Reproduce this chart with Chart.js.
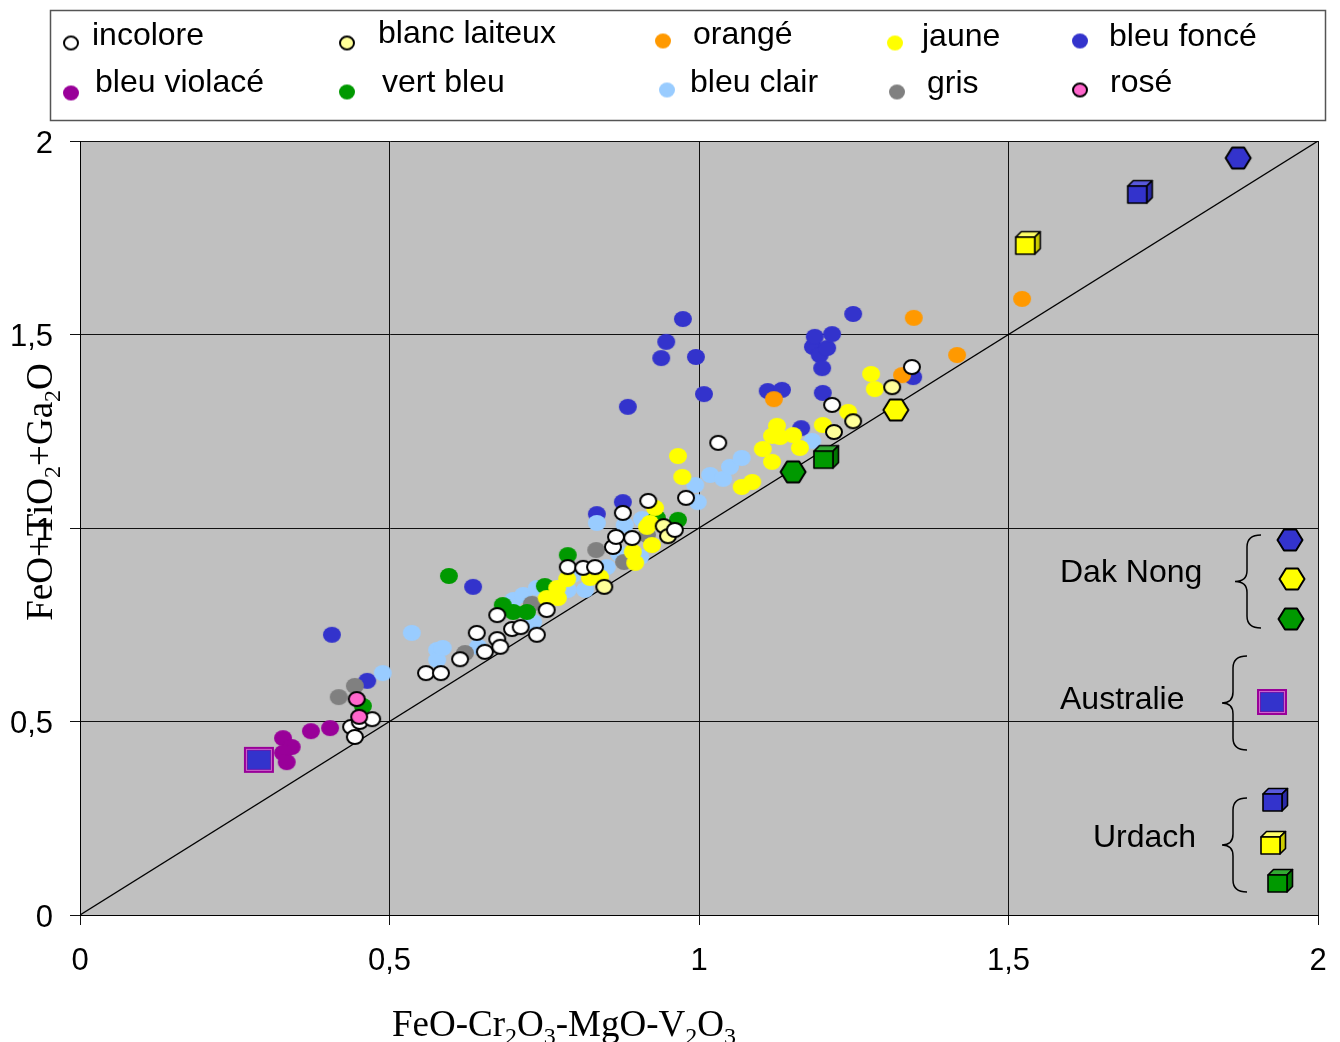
<!DOCTYPE html>
<html><head><meta charset="utf-8">
<script src="https://cdn.jsdelivr.net/npm/chart.js@4.4.1/dist/chart.umd.min.js"></script>
<style>html,body{margin:0;padding:0;background:#fff;} canvas{display:block;}</style>
</head><body>
<canvas id="c" width="1340" height="1042"></canvas>
<script>
// ---------- DATA (x = FeO-Cr2O3-MgO-V2O3, y = FeO+TiO2+Ga2O) ----------
const axisTicks = [0, 0.5, 1, 1.5, 2];
const diagonal = [[0, 0], [2, 2]];

const incolore = [[0.438,0.486],[0.444,0.460],[0.452,0.499],[0.472,0.506],[0.559,0.625],[0.583,0.625],[0.614,0.661],[0.641,0.729],[0.654,0.680],[0.674,0.775],[0.674,0.713],[0.679,0.693],[0.698,0.739],[0.712,0.744],[0.738,0.724],[0.754,0.788],[0.788,0.899],[0.813,0.897],[0.832,0.899],[0.861,0.951],[0.866,0.977],[0.892,0.974],[0.877,1.039],[0.918,1.070],[0.961,0.995],[0.979,1.078],[1.031,1.220],[1.215,1.318],[1.344,1.416]];
const blancLaiteux = [[0.847,0.848],[0.943,1.005],[0.950,0.979],[1.218,1.248],[1.249,1.276],[1.312,1.364]];
const orange = [[1.121,1.333],[1.328,1.395],[1.347,1.543],[1.417,1.447],[1.522,1.592]];
const jaune = [[0.754,0.819],[0.772,0.819],[0.771,0.845],[0.787,0.868],[0.824,0.871],[0.840,0.873],[0.893,0.938],[0.897,0.910],[0.916,1.003],[0.921,1.013],[0.929,1.052],[0.924,0.956],[0.973,1.132],[0.966,1.186],[1.069,1.106],[1.086,1.119],[1.103,1.204],[1.118,1.238],[1.118,1.171],[1.126,1.264],[1.131,1.235],[1.152,1.240],[1.163,1.207],[1.200,1.266],[1.241,1.300],[1.278,1.398],[1.284,1.359]];
const bleuFonce = [[0.407,0.724],[0.464,0.605],[0.635,0.848],[0.835,1.036],[0.877,1.067],[0.885,1.313],[0.939,1.439],[0.947,1.481],[0.974,1.540],[0.995,1.442],[1.008,1.346],[1.111,1.354],[1.134,1.357],[1.165,1.258],[1.184,1.468],[1.187,1.494],[1.195,1.447],[1.199,1.413],[1.200,1.349],[1.207,1.465],[1.215,1.501],[1.249,1.553],[1.346,1.390]];
const bleuViolace = [[0.328,0.457],[0.342,0.434],[0.328,0.419],[0.334,0.395],[0.373,0.475],[0.404,0.483]];
const vertBleu = [[0.457,0.540],[0.596,0.876],[0.683,0.801],[0.700,0.783],[0.722,0.783],[0.751,0.850],[0.788,0.930],[0.932,1.026],[0.966,1.021]];
const bleuClair = [[0.489,0.625],[0.536,0.729],[0.577,0.685],[0.577,0.659],[0.586,0.690],[0.643,0.693],[0.700,0.814],[0.716,0.827],[0.732,0.757],[0.738,0.845],[0.788,0.840],[0.796,0.879],[0.816,0.840],[0.835,1.013],[0.851,0.899],[0.871,0.933],[0.880,1.008],[0.905,0.925],[0.908,1.023],[0.994,1.111],[0.998,1.067],[1.018,1.137],[1.039,1.127],[1.050,1.158],[1.069,1.181],[1.183,1.225]];
const gris = [[0.418,0.563],[0.444,0.592],[0.622,0.677],[0.730,0.804],[0.834,0.943],[0.879,0.912],[0.916,0.982]];
const rose = [[0.447,0.558],[0.451,0.512]];

const dakNong = { bleu: [[1.871,1.956]], jaune: [[1.318,1.305]], vert: [[1.152,1.145]] };
const urdach  = { bleu: [[1.712,1.868]], jaune: [[1.531,1.736]], vert: [[1.205,1.183]] };
const australie = [[0.289,0.401]];

const legendLabels = ['incolore','blanc laiteux','orangé','jaune','bleu foncé','bleu violacé','vert bleu','bleu clair','gris','rosé'];
const keyLabels = ['Dak Nong','Australie','Urdach'];

// ---------- STYLES ----------
const C = { white:'#FFFFFF', cream:'#FFFF99', orange:'#FF9900', yellow:'#FFFF00', dblue:'#3333CC', violet:'#990099', green:'#009900', lblue:'#99CCFF', grey:'#808080', pink:'#FF66CC' };

function ellipseImg(fill, border, rx, ry) {
  const c = document.createElement('canvas');
  c.width = Math.ceil(rx*2+4); c.height = Math.ceil(ry*2+4);
  const g = c.getContext('2d');
  g.beginPath();
  if (border) {
    g.ellipse(c.width/2, c.height/2, rx-1, ry-1, 0, 0, Math.PI*2);
    g.fillStyle = fill; g.fill();
    g.lineWidth = 2; g.strokeStyle = '#000'; g.stroke();
  } else {
    g.ellipse(c.width/2, c.height/2, rx, ry, 0, 0, Math.PI*2);
    g.fillStyle = fill; g.fill();
  }
  return c;
}
function hexImg(fill) {
  const c = document.createElement('canvas'); c.width = 30; c.height = 26;
  const g = c.getContext('2d');
  const cx = 15, cy = 13, w = 12.5, h = 10.5, s = 6;
  g.beginPath();
  g.moveTo(cx-w, cy); g.lineTo(cx-s, cy-h); g.lineTo(cx+s, cy-h);
  g.lineTo(cx+w, cy); g.lineTo(cx+s, cy+h); g.lineTo(cx-s, cy+h); g.closePath();
  g.fillStyle = fill; g.fill(); g.lineWidth = 2; g.strokeStyle = '#000'; g.lineJoin='round'; g.stroke();
  return c;
}
function cubeImg(front, top, side) {
  const c = document.createElement('canvas'); c.width = 30; c.height = 28;
  const g = c.getContext('2d');
  const x0 = 3, y0 = 8, w = 19, h = 17, d = 5.5;
  g.lineWidth = 1.6; g.strokeStyle = '#000'; g.lineJoin = 'round';
  g.beginPath(); g.moveTo(x0, y0); g.lineTo(x0+d, y0-d); g.lineTo(x0+w+d, y0-d); g.lineTo(x0+w, y0); g.closePath();
  g.fillStyle = top; g.fill(); g.stroke();
  g.beginPath(); g.moveTo(x0+w, y0); g.lineTo(x0+w+d, y0-d); g.lineTo(x0+w+d, y0+h-d); g.lineTo(x0+w, y0+h); g.closePath();
  g.fillStyle = side; g.fill(); g.stroke();
  g.beginPath(); g.rect(x0, y0, w, h); g.fillStyle = front; g.fill(); g.stroke();
  return c;
}
function ausImg() {
  const c = document.createElement('canvas'); c.width = 32; c.height = 28;
  const g = c.getContext('2d');
  g.fillStyle = C.violet; g.fillRect(1, 1, 30, 26);
  g.strokeStyle = '#CC66CC'; g.lineWidth = 1; g.strokeRect(3.5, 3.5, 25, 21);
  g.fillStyle = C.dblue; g.fillRect(4.5, 4.5, 23, 19);
  return c;
}

const P = {
  incolore: ellipseImg(C.white, true, 9, 8),
  blanc: ellipseImg(C.cream, true, 9, 8),
  orange: ellipseImg(C.orange, false, 9, 8),
  jaune: ellipseImg(C.yellow, false, 9, 8),
  dblue: ellipseImg(C.dblue, false, 9, 8),
  violet: ellipseImg(C.violet, false, 9, 8),
  green: ellipseImg(C.green, false, 9, 8),
  lblue: ellipseImg(C.lblue, false, 9, 8),
  grey: ellipseImg(C.grey, false, 9, 8),
  pink: ellipseImg(C.pink, true, 9, 8),
  hexB: hexImg(C.dblue), hexY: hexImg(C.yellow), hexG: hexImg(C.green),
  cubeB: cubeImg(C.dblue, '#5A5ADD', '#2A2AA8'),
  cubeY: cubeImg(C.yellow, '#FFFF66', '#CCCC00'),
  cubeG: cubeImg(C.green, '#33AA33', '#007700'),
  aus: ausImg()
};
const L = {
  incolore: ellipseImg(C.white, true, 8, 7.5), blanc: ellipseImg(C.cream, true, 8, 7.5),
  orange: ellipseImg(C.orange, false, 8, 7.5), jaune: ellipseImg(C.yellow, false, 8, 7.5),
  dblue: ellipseImg(C.dblue, false, 8, 7.5), violet: ellipseImg(C.violet, false, 8, 7.5),
  green: ellipseImg(C.green, false, 8, 7.5), lblue: ellipseImg(C.lblue, false, 8, 7.5),
  grey: ellipseImg(C.grey, false, 8, 7.5), pink: ellipseImg(C.pink, true, 8, 7.5)
};

const toXY = arr => arr.map(p => ({x: p[0], y: p[1]}));
function ds(label, data, img, order) {
  return { type: 'scatter', label, data: toXY(data), pointStyle: img, pointRadius: 10, pointHoverRadius: 10, order };
}

const datasets = [
  { type: 'line', label: 'diag', data: toXY(diagonal), borderColor: '#000', borderWidth: 1.3, pointRadius: 0, fill: false, order: 20 },
  ds('bleu foncé', bleuFonce, P.dblue, 12),
  ds('bleu violacé', bleuViolace, P.violet, 11),
  ds('bleu clair', bleuClair, P.lblue, 10),
  ds('gris', gris, P.grey, 9),
  ds('vert bleu', vertBleu, P.green, 8),
  ds('jaune', jaune, P.jaune, 7),
  ds('orangé', orange, P.orange, 6),
  ds('blanc laiteux', blancLaiteux, P.blanc, 5),
  ds('incolore', incolore, P.incolore, 4),
  ds('rosé', rose, P.pink, 3),
  ds('Dak Nong bleu', dakNong.bleu, P.hexB, 1),
  ds('Dak Nong jaune', dakNong.jaune, P.hexY, 1),
  ds('Dak Nong vert', dakNong.vert, P.hexG, 1),
  ds('Urdach bleu', urdach.bleu, P.cubeB, 1),
  ds('Urdach jaune', urdach.jaune, P.cubeY, 1),
  ds('Urdach vert', urdach.vert, P.cubeG, 1),
  ds('Australie', australie, P.aus, 1)
];

const SANS = '"Liberation Sans", Arial, sans-serif';
const SERIF = '"Liberation Serif", "Times New Roman", serif';

function chemText(ctx, parts, x, y, size, align) {
  const sub = Math.round(size*0.66);
  let total = 0;
  parts.forEach(p => { ctx.font = (p[1] ? sub : size) + 'px ' + SERIF; total += ctx.measureText(p[0]).width; });
  let cx = align === 'center' ? x - total/2 : x;
  ctx.textAlign = 'left'; ctx.textBaseline = 'alphabetic';
  parts.forEach(p => {
    ctx.font = (p[1] ? sub : size) + 'px ' + SERIF;
    ctx.fillText(p[0], cx, y + (p[1] ? size*0.22 : 0));
    cx += ctx.measureText(p[0]).width;
  });
}

function brace(ctx, x, top, bottom, tipX) {
  const mid = (top + bottom)/2;
  ctx.beginPath();
  ctx.moveTo(x+14, top);
  ctx.quadraticCurveTo(x, top, x, top+12);
  ctx.lineTo(x, mid-11);
  ctx.quadraticCurveTo(x, mid, tipX, mid);
  ctx.quadraticCurveTo(x, mid, x, mid+11);
  ctx.lineTo(x, bottom-12);
  ctx.quadraticCurveTo(x, bottom, x+14, bottom);
  ctx.stroke();
}

const bgPlugin = {
  id: 'bg',
  beforeDraw(chart) {
    const {ctx, chartArea: a} = chart;
    ctx.save();
    ctx.fillStyle = '#fff'; ctx.fillRect(0, 0, chart.width, chart.height);
    ctx.fillStyle = '#C0C0C0'; ctx.fillRect(a.left, a.top, a.right - a.left, a.bottom - a.top);
    ctx.restore();
  }
};

const legendItems = [
  {img: L.incolore, mx: 71, my: 43, tx: 92, ty: 36},
  {img: L.blanc, mx: 347, my: 43, tx: 378, ty: 34},
  {img: L.orange, mx: 663, my: 41, tx: 693, ty: 35},
  {img: L.jaune, mx: 895, my: 43, tx: 922, ty: 37},
  {img: L.dblue, mx: 1080, my: 41, tx: 1109, ty: 37},
  {img: L.violet, mx: 71, my: 93, tx: 95, ty: 83},
  {img: L.green, mx: 347, my: 92, tx: 382, ty: 83},
  {img: L.lblue, mx: 667, my: 90, tx: 690, ty: 83},
  {img: L.grey, mx: 897, my: 92, tx: 927, ty: 84},
  {img: L.pink, mx: 1080, my: 90, tx: 1110, ty: 83}
];

const decoPlugin = {
  id: 'deco',
  afterDraw(chart) {
    const ctx = chart.ctx;
    const a = chart.chartArea;
    ctx.save();
    // legend box
    ctx.strokeStyle = '#555'; ctx.lineWidth = 1.5;
    ctx.strokeRect(50.5, 10.5, 1275, 110);
    ctx.fillStyle = '#000'; ctx.font = '32px ' + SANS; ctx.textBaseline = 'middle'; ctx.textAlign = 'left';
    legendItems.forEach((it, i) => {
      ctx.drawImage(it.img, it.mx - it.img.width/2, it.my - it.img.height/2);
      ctx.fillText(legendLabels[i], it.tx, it.ty);
    });
    // key inside plot
    const R = a.right;
    ctx.fillText(keyLabels[0], R - 258, 573);
    ctx.fillText(keyLabels[1], R - 258, 700);
    ctx.fillText(keyLabels[2], R - 225, 838);
    ctx.strokeStyle = '#000'; ctx.lineWidth = 1.5;
    brace(ctx, R - 71, 535, 628, R - 83);
    brace(ctx, R - 85, 656, 750, R - 96);
    brace(ctx, R - 85, 798, 892, R - 96);
    const put = (img, x, y) => ctx.drawImage(img, x - img.width/2, y - img.height/2);
    put(P.hexB, R - 28, 540); put(P.hexY, R - 26, 579); put(P.hexG, R - 27, 619);
    put(P.aus, R - 46, 702);
    put(P.cubeB, R - 43, 800); put(P.cubeY, R - 45, 843); put(P.cubeG, R - 38, 881);
    // axis titles
    ctx.fillStyle = '#000';
    chemText(ctx, [['FeO-Cr',0],['2',1],['O',0],['3',1],['-MgO-V',0],['2',1],['O',0],['3',1]], 564, 1036, 37, 'center');
    ctx.save();
    ctx.translate(52, 492);
    ctx.rotate(-Math.PI/2);
    chemText(ctx, [['FeO+TiO',0],['2',1],['+Ga',0],['2',1],['O',0]], 0, 0, 37, 'center');
    ctx.restore();
    ctx.restore();
  }
};

const fmt = v => String(v).replace('.', ',');
const noPad = s => { s.paddingLeft = 0; s.paddingRight = 0; s.paddingTop = 0; s.paddingBottom = 0; };

new Chart(document.getElementById('c'), {
  data: { datasets },
  options: {
    responsive: false,
    animation: false,
    events: [],
    layout: { padding: { top: 141, right: 22, left: 0, bottom: 0 } },
    plugins: { legend: { display: false }, tooltip: { enabled: false } },
    scales: {
      x: {
        type: 'linear', min: axisTicks[0], max: axisTicks[axisTicks.length-1],
        afterBuildTicks: s => { s.ticks = axisTicks.map(v => ({value: v})); },
        afterFit: s => { s.height = 127; noPad(s); },
        grid: { color: '#111', lineWidth: 1, tickLength: 10, drawTicks: true },
        border: { color: '#000', width: 1 },
        ticks: { color: '#000', font: { family: SANS, size: 31 }, padding: 18, callback: fmt, maxRotation: 0 }
      },
      y: {
        type: 'linear', min: axisTicks[0], max: axisTicks[axisTicks.length-1],
        afterBuildTicks: s => { s.ticks = axisTicks.map(v => ({value: v})); },
        afterFit: s => { s.width = 80; noPad(s); },
        grid: { color: '#111', lineWidth: 1, tickLength: 10, drawTicks: true },
        border: { color: '#000', width: 1 },
        ticks: { color: '#000', font: { family: SANS, size: 31 }, padding: 17, labelOffset: 3, callback: fmt }
      }
    }
  },
  plugins: [bgPlugin, decoPlugin]
});
</script>
</body></html>
